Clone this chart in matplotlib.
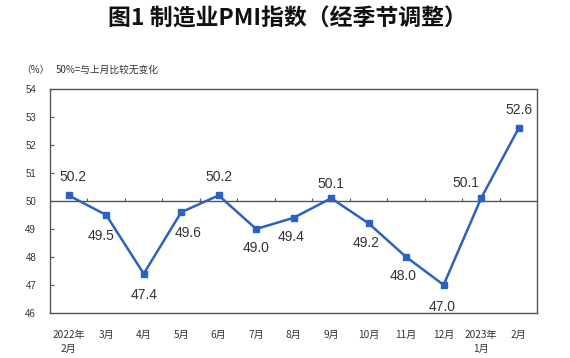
import matplotlib
matplotlib.use("Agg")
import matplotlib.pyplot as plt
import numpy as np

plt.rcParams['font.family'] = ['Noto Sans CJK SC', 'DejaVu Sans']

# data
months = ["2022年\n2月", "3月", "4月", "5月", "6月", "7月", "8月", "9月",
          "10月", "11月", "12月", "2023年\n1月", "2月"]
pmi = [50.2, 49.5, 47.4, 49.6, 50.2, 49.0, 49.4, 50.1, 49.2, 48.0, 47.0, 50.1, 52.6]
y_ticks = [46, 47, 48, 49, 50, 51, 52, 53, 54]
# label offsets in points (dx, dy)
label_offsets = [(3, 13), (-4, -15), (0, -15), (5, -15), (0, 13), (0, -14),
                 (-2, -14), (0, 10), (-2, -14), (-2, -14), (-1, -16), (-11, 11), (0, 13)]

BLUE = "#2b62c2"
GRAY = "#555555"

fig = plt.figure(figsize=(5.7, 3.58), dpi=100)
ax = fig.add_axes([0.0877, 0.126, 0.855, 0.625])

x = np.arange(len(pmi))
ax.plot(x, pmi, color=BLUE, lw=1.8, marker="s", ms=3.8, zorder=3)

for xi, v, (dx, dy) in zip(x, pmi, label_offsets):
    ax.annotate(f"{v:.1f}", (xi, v), xytext=(dx, dy), textcoords="offset points",
                ha="center", va="center", fontsize=10, color="#333333",
                family="Liberation Sans")

# 50 reference line with small ticks between months
ax.axhline(50, color=GRAY, lw=1, zorder=2)
ax.vlines(x[:-1] + 0.5, 50, 50.12, color=GRAY, lw=0.8, zorder=2)

ax.set_xlim(-0.5, len(pmi) - 0.5)
ax.set_ylim(46, 54)
ax.set_yticks(y_ticks)
ax.set_yticklabels([str(t) for t in y_ticks], fontsize=7, color="#333333",
                   family="Liberation Sans")
ax.tick_params(axis="y", direction="in", length=3, color=GRAY, pad=10)
ax.set_xticks(x)
ax.set_xticklabels(months, fontsize=7.3, color="#333333", linespacing=1.6)
ax.tick_params(axis="x", length=0, pad=12)
for s in ax.spines.values():
    s.set_color(GRAY)
    s.set_linewidth(1)

fig.text(0.505, 0.948, "图1 制造业PMI指数（经季节调整）", ha="center", va="center",
         fontsize=16.5, fontweight="bold", color="#111111")
fig.text(0.037, 0.805, "（%）", ha="left", va="center", fontsize=7, color="#333333")
fig.text(0.097, 0.805, "50%=与上月比较无变化", ha="left", va="center", fontsize=7,
         color="#333333")

fig.savefig("out.png", dpi=100)
